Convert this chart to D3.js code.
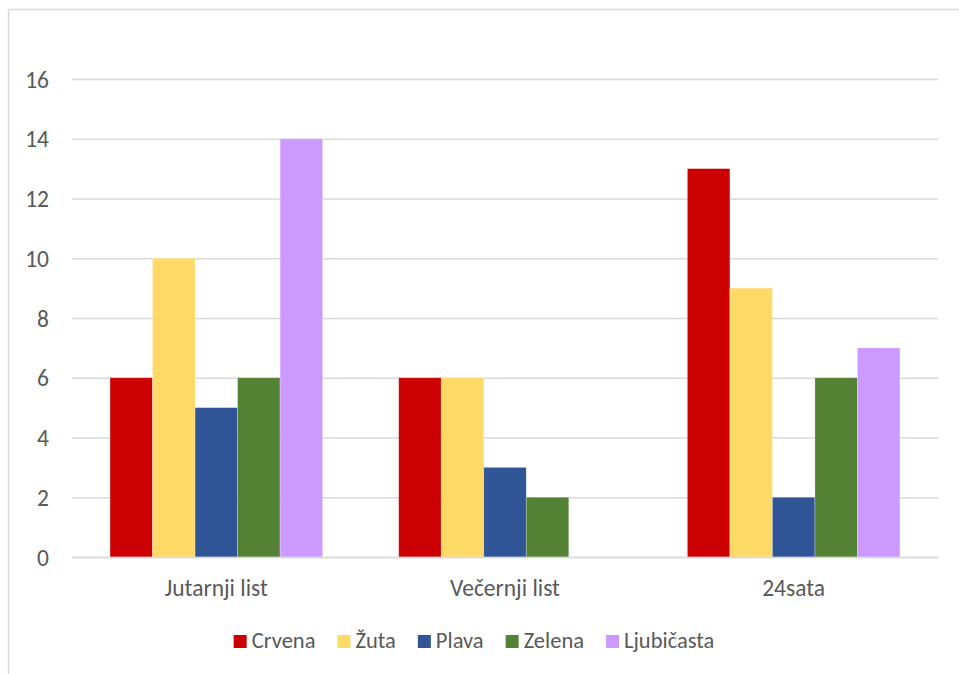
<!DOCTYPE html>
<html><head><meta charset="utf-8">
<script src="https://cdn.jsdelivr.net/npm/d3@7"></script>
<style>body{margin:0;background:#fff}svg{display:block}text{font-family:Carlito,Calibri,Lato,"Liberation Sans",sans-serif}</style>
</head><body>
<svg id="c" width="959" height="674"></svg>
<script>
const categories = ["Jutarnji list", "Večernji list", "24sata"];
const seriesNames = ["Crvena", "Žuta", "Plava", "Zelena", "Ljubičasta"];
const seriesColors = ["#CC0000", "#FFD966", "#2F5597", "#548235", "#CC99FF"];
const values = [
  [6, 6, 13],   // Crvena
  [10, 6, 9],   // Žuta
  [5, 3, 2],    // Plava
  [6, 2, 6],    // Zelena
  [14, 0, 7]    // Ljubičasta
];
const yTicks = [0, 2, 4, 6, 8, 10, 12, 14, 16];
const FS = "23.5px";
const LFS = "22.5px";

const svg = d3.select("#c");
svg.append("rect").attr("x", 8.5).attr("y", 9.5).attr("width", 960).attr("height", 700)
  .attr("fill", "#fff").attr("stroke", "#D9D9D9").attr("stroke-width", 1.5);

const L = 72, R = 938, T = 79, B = 557;
const x0 = d3.scaleBand().domain(categories).range([L, R]).paddingInner(0).paddingOuter(0);
const x1 = d3.scaleBand().domain(seriesNames).range([0, x0.bandwidth()]).paddingInner(0).paddingOuter(0.895);
const y = d3.scaleLinear().domain([0, 16]).range([B, T]);

const yAxis = d3.axisLeft(y).tickValues(yTicks).tickSize(-(R - L)).tickPadding(23);
const gy = svg.append("g").attr("transform", `translate(${L},0)`).call(yAxis);
gy.attr("font-family", null).attr("font-size", null);
gy.select(".domain").remove();
gy.selectAll(".tick line").attr("stroke", "#D9D9D9").attr("stroke-width", 1.3);
gy.selectAll(".tick text").attr("fill", "#595959").style("font-size", FS).attr("dy", "0.35em");

const groups = svg.append("g").selectAll("g").data(categories).join("g")
  .attr("transform", d => `translate(${x0(d)},0)`);
groups.selectAll("rect").data((c, ci) => seriesNames.map((s, si) => ({s, si, v: values[si][ci]})))
  .join("rect")
  .attr("x", d => x1(d.s)).attr("width", x1.bandwidth())
  .attr("y", d => y(d.v)).attr("height", d => y(0) - y(d.v))
  .attr("fill", d => seriesColors[d.si])
  .attr("stroke", "#fff").attr("stroke-opacity", 0.35).attr("stroke-width", 0.75);

const xAxis = d3.axisBottom(x0).tickSize(0).tickPadding(0);
const gx = svg.append("g").attr("transform", `translate(0,${B})`).call(xAxis);
gx.attr("font-family", null).attr("font-size", null);
gx.select(".domain").attr("stroke", "#D9D9D9").attr("stroke-width", 1.3);
gx.selectAll(".tick text").attr("fill", "#595959").style("font-size", FS).attr("dy", null).attr("y", 39);

// legend
const leg = svg.append("g");
const items = leg.selectAll("g").data(seriesNames).join("g");
items.append("rect").attr("width", 13).attr("height", 13).attr("y", -13)
  .attr("fill", (d, i) => seriesColors[i]);
items.append("text").attr("x", 18).attr("y", 0).attr("fill", "#595959")
  .style("font-size", LFS).text(d => d);
const widths = [];
items.each(function(){ widths.push(18 + this.querySelector("text").getComputedTextLength()); });
const gap = 22;
const total = d3.sum(widths) + gap * (widths.length - 1);
let cx = 474 - total / 2;
items.attr("transform", (d, i) => { const t = `translate(${cx},648)`; cx += widths[i] + gap; return t; });
</script>
</body></html>
